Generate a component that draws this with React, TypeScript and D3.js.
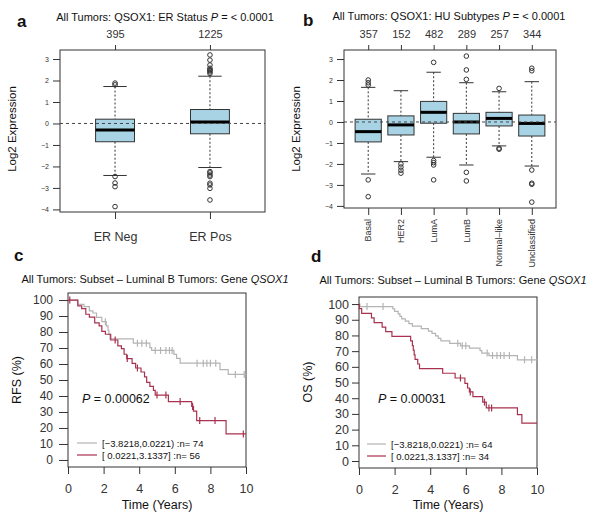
import React from "react";
import * as d3 from "d3";

const FONT = "'Liberation Sans', Arial, Helvetica, sans-serif";
const INK = "#333";
const BOX_FILL = "#a8d3e4";
const GREY = "#b4b4b4";
const RED = "#a8324f";

// a: QSOX1 by ER status
const erGroups = ["ER Neg", "ER Pos"];
const erCounts = ["395", "1225"];
const erLow = [-2.42, -2.05];
const erQ1 = [-0.85, -0.48];
const erMed = [-0.3, 0.07];
const erQ3 = [0.2, 0.65];
const erHigh = [1.72, 2.2];
const erOutliers = [
  [1.88, 1.8, -2.47, -2.77, -2.94, -3.87],
  [3.19, 2.95, 2.72, 2.57, 2.5, 2.46, 2.4, 2.33, -2.24, -2.3, -2.4, -2.47, -2.78, -2.86, -3.02, -3.56],
];

// b: QSOX1 by HU subtype
const huGroups = ["Basal", "HER2", "LumA", "LumB", "Normal–like", "Unclassified"];
const huCounts = ["357", "152", "482", "289", "257", "344"];
const huLow = [-2.48, -1.89, -1.68, -2.05, -1.14, -2.1];
const huQ1 = [-0.95, -0.62, -0.06, -0.57, -0.19, -0.67];
const huMed = [-0.46, -0.14, 0.46, 0.0, 0.17, -0.07];
const huQ3 = [0.13, 0.29, 0.98, 0.41, 0.46, 0.33];
const huHigh = [1.65, 1.49, 2.37, 1.87, 1.44, 1.92];
const huOutliers = [
  [2.0, 1.87, 1.76, -2.76, -3.56],
  [-2.0, -2.15, -2.3, -2.44],
  [2.84, -1.84, -1.94, -2.05, -2.76],
  [3.14, 2.48, 2.03, -2.4, -2.81],
  [1.6, -1.25, -1.3],
  [2.56, 2.44, -2.29, -2.92, -2.97, -3.82],
];

const exprTicks = [-4, -3, -2, -1, 0, 1, 2, 3];

// c, d: Kaplan-Meier, luminal B subset
const kmYTicks = [0, 10, 20, 30, 40, 50, 60, 70, 80, 90, 100];
const kmXTicks = [0, 2, 4, 6, 8, 10];
const kmGroups = ["[−3.8218,0.0221)", "[ 0.0221,3.1337]"];
const rfsN = [74, 56];
const osN = [64, 34];

const rfsLowTime = [0, 0.55, 0.9, 1.2, 1.4, 1.6, 1.9, 2.15, 2.25, 2.3, 2.36, 3.67, 4.6, 4.7, 5.95, 6.1, 6.3, 8.54, 9.0];
const rfsLowSurv = [100, 97.3, 95.9, 93.2, 91.9, 89.2, 86.5, 83.8, 81.1, 78.4, 75.7, 73, 70.3, 68.5, 66, 63.5, 60.5, 56.5, 53.5];
const rfsLowCensor = [2.1, 3.9, 4.15, 4.4, 4.9, 5.2, 5.5, 5.7, 5.85, 7.25, 7.6, 7.8, 8.0, 8.3, 9.4, 9.9];

const rfsHighTime = [0, 0.55, 0.77, 1.0, 1.2, 1.5, 1.75, 1.9, 2.1, 2.4, 2.8, 3.0, 3.15, 3.3, 3.6, 3.8, 4.1, 4.3, 4.42, 4.6, 4.8, 4.9, 5.64, 6.95, 7.05, 7.23, 8.88];
const rfsHighSurv = [100, 96.4, 94.6, 91.1, 89.3, 85.7, 83.9, 80.4, 78.6, 75, 71.4, 69.6, 66.1, 63.4, 60.4, 57.5, 55, 52, 48.5, 46, 43.5, 40.6, 36.5, 33.5, 30.5, 24.6, 16.3];
const rfsHighCensor = [0.1, 2.65, 3.33, 3.9, 5.0, 5.5, 6.3, 7.0, 7.4, 8.26, 9.85];

const osLowTime = [0, 0.05, 1.9, 2.0, 2.2, 2.3, 2.4, 2.6, 2.8, 3.0, 3.5, 3.9, 4.1, 4.3, 4.45, 4.6, 5.1, 5.7, 6.2, 6.8, 6.9, 7.3, 8.9];
const osLowSurv = [100, 98.4, 96.9, 95.3, 93.8, 92.2, 90.6, 89.1, 87.5, 85.9, 84.4, 82.8, 81.3, 79.7, 78.1, 76.6, 75, 73.4, 71.9, 70.3, 68.8, 67.2, 64.5];
const osLowCensor = [0.45, 1.35, 5.55, 5.8, 6.0, 7.2, 7.5, 7.75, 7.95, 8.15, 8.45, 9.3, 9.7];

const osHighTime = [0, 0.02, 0.15, 0.7, 0.85, 1.3, 1.5, 1.85, 2.9, 3.0, 3.05, 3.1, 3.15, 3.3, 3.4, 4.7, 5.4, 5.95, 6.1, 6.2, 6.4, 6.95, 7.15, 8.9, 9.15];
const osHighSurv = [100, 97.1, 94.1, 91.2, 88.2, 85.3, 82.4, 79.4, 76.5, 73.5, 70.6, 67.6, 64.7, 61.8, 58.8, 55.9, 52.9, 49.5, 46.5, 44, 41, 37.5, 33.8, 29.5, 24.1];
const osHighCensor = [5.7, 6.25, 7.05, 7.3, 7.45];

const FOLLOW_UP = 10;

function styleAxis(sel, size) {
  sel.attr("font-family", FONT).attr("font-size", size).attr("color", INK);
  sel.select(".domain").remove();
}

// text made of plain / italic pieces
function addText(g, x, y, parts, size, anchor = "start", weight = "normal") {
  const t = g.append("text")
    .attr("x", x).attr("y", y)
    .attr("font-size", size)
    .attr("text-anchor", anchor)
    .attr("font-weight", weight)
    .attr("fill", "#111");
  parts.forEach(([s, it]) => t.append("tspan").attr("font-style", it ? "italic" : "normal").text(s));
  return t;
}

function addVertical(g, x, y, label, size) {
  g.append("text")
    .attr("transform", `translate(${x},${y}) rotate(-90)`)
    .attr("text-anchor", "middle")
    .attr("font-size", size)
    .attr("fill", "#111")
    .text(label);
}

function drawBoxPanel(g, c) {
  const x = d3.scaleLinear().domain(c.xDomain).range([c.left, c.right]);
  const y = d3.scaleLinear().domain(c.yDomain).range([c.bottom, c.top]);
  const pos = c.groups.map((_, i) => i + 1);
  const half = x(1 + c.boxWidth / 2) - x(1);
  const capHalf = half * c.capRatio;

  g.append("g").attr("transform", `translate(${c.left},0)`)
    .call(d3.axisLeft(y).tickValues(exprTicks).tickSize(7).tickPadding(4).tickFormat(d3.format("d")))
    .call(s => styleAxis(s, 7));

  g.append("g").attr("transform", `translate(0,${c.top})`)
    .call(d3.axisTop(x).tickValues(pos).tickSize(5).tickPadding(7).tickFormat((_, i) => c.counts[i]))
    .call(s => styleAxis(s, 11));

  g.append("g").attr("transform", `translate(0,${c.bottom})`)
    .call(d3.axisBottom(x).tickValues(pos).tickSize(7).tickPadding(c.labelPad)
      .tickFormat((_, i) => (c.rotate ? "" : c.groups[i])))
    .call(s => styleAxis(s, c.labelSize));

  if (c.rotate) {
    pos.forEach((p, i) => {
      g.append("text")
        .attr("transform", `translate(${x(p)},${c.bottom + 11}) rotate(-90)`)
        .attr("text-anchor", "end")
        .attr("dy", "0.35em")
        .attr("font-size", c.labelSize)
        .attr("fill", INK)
        .text(c.groups[i]);
    });
  }

  g.append("rect")
    .attr("x", c.left).attr("y", c.top)
    .attr("width", c.right - c.left).attr("height", c.bottom - c.top)
    .attr("fill", "none").attr("stroke", INK);

  pos.forEach((p, i) => {
    const cx = x(p);
    g.append("line").attr("x1", cx).attr("x2", cx)
      .attr("y1", y(c.high[i])).attr("y2", y(c.q3[i]))
      .attr("stroke", INK).attr("stroke-dasharray", "2,2");
    g.append("line").attr("x1", cx).attr("x2", cx)
      .attr("y1", y(c.q1[i])).attr("y2", y(c.low[i]))
      .attr("stroke", INK).attr("stroke-dasharray", "2,2");
    [c.high[i], c.low[i]].forEach(v => {
      g.append("line").attr("x1", cx - capHalf).attr("x2", cx + capHalf)
        .attr("y1", y(v)).attr("y2", y(v)).attr("stroke", INK);
    });
    g.append("rect")
      .attr("x", cx - half).attr("y", y(c.q3[i]))
      .attr("width", half * 2).attr("height", y(c.q1[i]) - y(c.q3[i]))
      .attr("fill", BOX_FILL).attr("stroke", INK);
    g.append("line").attr("x1", cx - half).attr("x2", cx + half)
      .attr("y1", y(c.med[i])).attr("y2", y(c.med[i]))
      .attr("stroke", "#000").attr("stroke-width", 3);
    c.outliers[i].forEach(v => {
      g.append("circle").attr("cx", cx).attr("cy", y(v)).attr("r", 2.3)
        .attr("fill", "none").attr("stroke", INK);
    });
  });

  g.append("line")
    .attr("x1", c.left).attr("x2", c.right)
    .attr("y1", y(0)).attr("y2", y(0))
    .attr("stroke", "#444").attr("stroke-dasharray", "3,3");

  addText(g, c.titleX, c.titleY, [[c.title, false], ["P", true], [" = < 0.0001", false]], 11, "middle");
  addVertical(g, c.yTitleX, c.yTitleY, "Log2 Expression", 11.5);
}

function survAt(time, surv, t) {
  let k = 0;
  time.forEach((tt, i) => { if (tt <= t) k = i; });
  return surv[k];
}

function drawKmPanel(g, c) {
  const x = d3.scaleLinear().domain([0, FOLLOW_UP]).range([c.left, c.right]);
  const y = d3.scaleLinear().domain(c.yDomain).range([c.bottom, c.top]);

  g.append("g").attr("transform", `translate(${c.left},0)`)
    .call(d3.axisLeft(y).tickValues(kmYTicks).tickSize(c.yTick).tickPadding(c.yPad))
    .call(s => styleAxis(s, c.yFont));
  g.append("g").attr("transform", `translate(0,${c.bottom})`)
    .call(d3.axisBottom(x).tickValues(kmXTicks).tickSize(7).tickPadding(10))
    .call(s => styleAxis(s, 12.5));

  g.append("rect")
    .attr("x", c.left).attr("y", c.top)
    .attr("width", c.right - c.left).attr("height", c.bottom - c.top)
    .attr("fill", "none").attr("stroke", INK);

  const line = d3.line().x(d => x(d[0])).y(d => y(d[1])).curve(d3.curveStepAfter);

  c.curves.forEach(cv => {
    const pts = cv.time.map((t, i) => [t, cv.surv[i]]);
    pts.push([FOLLOW_UP, cv.surv[cv.surv.length - 1]]);
    g.append("path").datum(pts)
      .attr("fill", "none").attr("stroke", cv.color).attr("stroke-width", 1.2)
      .attr("d", line);
    cv.censor.forEach(t => {
      const s = survAt(cv.time, cv.surv, t);
      g.append("line").attr("x1", x(t)).attr("x2", x(t))
        .attr("y1", y(s) - 3.5).attr("y2", y(s) + 3.5)
        .attr("stroke", cv.color).attr("stroke-width", 1.2);
    });
  });

  c.curves.forEach((cv, i) => {
    const ly = c.legendY + i * 12;
    g.append("line").attr("x1", c.legendX).attr("x2", c.legendX + c.legendLen)
      .attr("y1", ly).attr("y2", ly).attr("stroke", cv.color).attr("stroke-width", 1.2);
    addText(g, c.legendX + c.legendLen + 5, ly + 3.5, [[`${kmGroups[i]} :n= ${c.n[i]}`, false]], 9.5);
  });

  addText(g, c.pX, c.pY, [["P", true], [` = ${c.p}`, false]], 12.5);
  addText(g, c.titleX, c.titleY, [["All Tumors: Subset – Luminal B Tumors: Gene ", false], ["QSOX1", true]], 11, "middle");
  addText(g, (c.left + c.right) / 2, 509, [["Time (Years)", false]], 12.5, "middle");
  addVertical(g, c.yTitleX, c.yTitleY, c.yTitle, 12.5);
}

export default function App() {
  const ref = React.useRef(null);

  React.useEffect(() => {
    const svg = d3.select(ref.current);
    svg.selectAll("*").remove();
    svg.append("rect").attr("width", 600).attr("height", 519).attr("fill", "#fff");

    drawBoxPanel(svg.append("g"), {
      left: 60, right: 265, top: 50, bottom: 212,
      xDomain: [0.42, 2.58], yDomain: [-4.12, 3.42],
      boxWidth: 0.41, capRatio: 0.6,
      groups: erGroups, counts: erCounts,
      low: erLow, q1: erQ1, med: erMed, q3: erQ3, high: erHigh, outliers: erOutliers,
      rotate: false, labelSize: 12.5, labelPad: 13,
      title: "All Tumors: QSOX1: ER Status ", titleX: 165, titleY: 21,
      yTitleX: 16, yTitleY: 129,
    });

    drawBoxPanel(svg.append("g"), {
      left: 344, right: 556, top: 50, bottom: 208,
      xDomain: [0.26, 6.74], yDomain: [-4.1, 3.43],
      boxWidth: 0.8, capRatio: 0.55,
      groups: huGroups, counts: huCounts,
      low: huLow, q1: huQ1, med: huMed, q3: huQ3, high: huHigh, outliers: huOutliers,
      rotate: true, labelSize: 9, labelPad: 3,
      title: "All Tumors: QSOX1: HU Subtypes ", titleX: 449, titleY: 20,
      yTitleX: 300, yTitleY: 129,
    });

    drawKmPanel(svg.append("g"), {
      left: 68, right: 246, top: 293, bottom: 467,
      yDomain: [-4.4, 104.4], yTick: 9, yPad: 6, yFont: 12,
      curves: [
        { time: rfsLowTime, surv: rfsLowSurv, censor: rfsLowCensor, color: GREY },
        { time: rfsHighTime, surv: rfsHighSurv, censor: rfsHighCensor, color: RED },
      ],
      n: rfsN, legendX: 77, legendY: 443, legendLen: 20,
      p: "0.00062", pX: 82, pY: 403,
      titleX: 155, titleY: 283,
      yTitle: "RFS (%)", yTitleX: 21, yTitleY: 380,
    });

    drawKmPanel(svg.append("g"), {
      left: 359, right: 537, top: 297, bottom: 468,
      yDomain: [-4.46, 104.5], yTick: 7, yPad: 3, yFont: 12.5,
      curves: [
        { time: osLowTime, surv: osLowSurv, censor: osLowCensor, color: GREY },
        { time: osHighTime, surv: osHighSurv, censor: osHighCensor, color: RED },
      ],
      n: osN, legendX: 367, legendY: 444, legendLen: 19,
      p: "0.00031", pX: 378, pY: 403,
      titleX: 453, titleY: 284,
      yTitle: "OS (%)", yTitleX: 312, yTitleY: 382,
    });

    addText(svg, 17, 27, [["a", false]], 17, "start", "bold");
    addText(svg, 303, 26, [["b", false]], 17, "start", "bold");
    addText(svg, 14, 261, [["c", false]], 17, "start", "bold");
    addText(svg, 311, 262, [["d", false]], 17, "start", "bold");
  }, []);

  return (
    <svg
      ref={ref}
      width={600}
      height={519}
      style={{ position: "absolute", left: 0, top: 0, fontFamily: FONT }}
    />
  );
}
